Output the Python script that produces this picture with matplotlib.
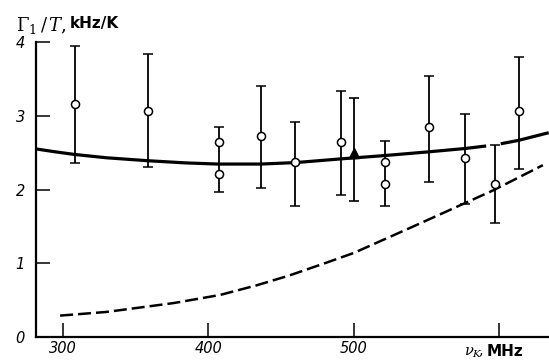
import matplotlib
matplotlib.use('Agg')
import matplotlib.pyplot as plt

# ---- data ----
freq = [308, 358.5, 407, 436.4, 459.5, 491.5, 521.3, 551.5, 576.3, 597, 613.4]
gamma = [3.16, 3.07, 2.64, 2.73, 2.37, 2.64, 2.37, 2.85, 2.43, 2.07, 3.07]
upper = [3.95, 3.84, 2.85, 3.41, 2.91, 3.33, 2.66, 3.54, 3.02, 2.61, 3.80]
lower = [2.36, 2.30, 1.96, 2.02, 1.77, 1.93, 1.78, 2.10, 1.81, 1.54, 2.28]

# second points sharing an error bar
freq2 = [407, 521.3]
gamma2 = [2.21, 2.08]

# triangle point
tri_freq = [500]
tri_gamma = [2.49]
tri_upper = [3.24]
tri_lower = [1.84]

# solid theoretical curve
curve_f = [281.4, 295, 308, 330, 358.5, 385, 406.5, 436, 460, 491, 521, 551, 576, 591]
curve_g = [2.55, 2.51, 2.475, 2.43, 2.39, 2.36, 2.345, 2.345, 2.365, 2.415, 2.46, 2.51, 2.555, 2.59]
# extrapolated continuation
ext_f = [601, 613, 634]
ext_g = [2.62, 2.665, 2.77]

# dashed curve
dash_f = [298, 330, 376, 408, 433, 455, 480, 500, 541, 596, 630]
dash_g = [0.29, 0.34, 0.46, 0.57, 0.70, 0.83, 1.0, 1.14, 1.50, 1.99, 2.33]

xticks = [300, 400, 500, 600]
xticklabels = ['300', '400', '500', '']
yticks = [0, 1, 2, 3, 4]
yticklabels = ['0', '1', '2', '3', '4']

W, H = 549, 364
fig = plt.figure(figsize=(W / 100, H / 100), dpi=100)
ax = fig.add_axes([36 / W, 1 - 337 / H, (549 - 36) / W, (337 - 42) / H])
ax.set_xlim(281.43, 634.2)
ax.set_ylim(0, 4)

for s in ['top', 'right']:
    ax.spines[s].set_visible(False)
for s in ['left', 'bottom']:
    ax.spines[s].set_linewidth(1.6)

ax.set_xticks(xticks)
ax.set_xticklabels(xticklabels)
ax.set_yticks(yticks)
ax.set_yticklabels(yticklabels)
ax.tick_params(axis='both', direction='in', length=10, width=1.1)
ax.tick_params(axis='x', pad=3)
ax.tick_params(axis='y', pad=8)
for lab in ax.get_xticklabels() + ax.get_yticklabels():
    lab.set_fontsize(10.5)
    lab.set_fontstyle('italic')

# curves
ax.plot(curve_f, curve_g, color='black', lw=2.3, solid_capstyle='butt',
        solid_joinstyle='round', zorder=2)
ax.plot(ext_f, ext_g, color='black', lw=2.3, solid_capstyle='butt', zorder=2)
ax.plot(dash_f, dash_g, color='black', lw=1.8, dashes=(5.2, 2.0), zorder=2)

# error bars
yerr = [[g - l for g, l in zip(gamma, lower)], [u - g for g, u in zip(gamma, upper)]]
ax.errorbar(freq, gamma, yerr=yerr, fmt='o', color='black', ecolor='black',
            elinewidth=1.3, capsize=3.3, capthick=1.2, markersize=5.8,
            markerfacecolor='white', markeredgecolor='black', markeredgewidth=1.1,
            zorder=3)
ax.plot(freq2, gamma2, 'o', markersize=5.8, markerfacecolor='white',
        markeredgecolor='black', markeredgewidth=1.1, zorder=4)
tyerr = [[g - l for g, l in zip(tri_gamma, tri_lower)], [u - g for g, u in zip(tri_gamma, tri_upper)]]
ax.errorbar(tri_freq, tri_gamma, yerr=tyerr, fmt='^', color='black', ecolor='black',
            elinewidth=1.3, capsize=3.3, capthick=1.2, markersize=6.5, zorder=4)

# axis labels
fig.text(16 / W, 1 - 31 / H, r'$\mathit{\Gamma}_{\mathit{1}}\,/\,\mathit{T},$', fontsize=13,
         va='baseline', ha='left', math_fontfamily='dejavuserif')
fig.text(70 / W, 1 - 28 / H, 'kHz/K', fontsize=11, fontweight='bold', va='baseline', ha='left')
fig.text(464 / W, 1 - 356 / H, r'$\mathit{\nu}_{\mathit{K}}\!,$', fontsize=10.5,
         va='baseline', ha='left', math_fontfamily='dejavuserif')
fig.text(487 / W, 1 - 356 / H, 'MHz', fontsize=11, fontweight='bold', va='baseline', ha='left')

fig.savefig('out.png', dpi=100)
